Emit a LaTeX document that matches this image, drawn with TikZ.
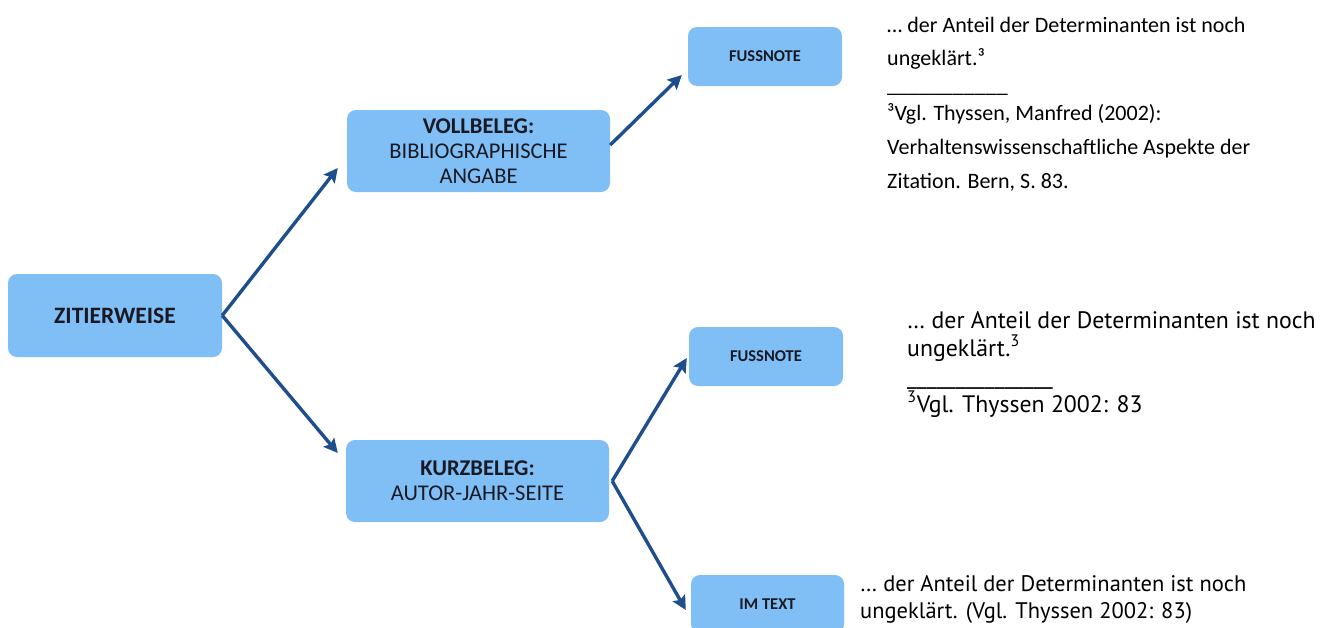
\documentclass[tikz,border=0pt]{standalone}
\usepackage{fontspec}
\setmainfont{Carlito}
\newfontfamily\myriad{PT Sans}
\usetikzlibrary{arrows.meta}
\definecolor{boxblue}{RGB}{128,190,246}
\definecolor{arrowblue}{RGB}{31,78,140}
\definecolor{boxtext}{RGB}{25,25,35}
\begin{document}
\begin{tikzpicture}[x=1pt,y=-1pt,
  box/.style={rectangle, rounded corners=9pt, fill=boxblue, inner sep=0pt, align=center, text=boxtext},
  bigbox/.style={box, minimum width=263pt, minimum height=82pt, font=\fontsize{22.5}{25}\selectfont},
  smallbox/.style={box, minimum width=154pt, minimum height=59pt, font=\bfseries\fontsize{16.5}{19}\selectfont},
  conn/.style={draw=arrowblue, line width=3.4pt, -{Stealth[length=14pt,width=14pt,inset=2.5pt]}},
  calibri/.style={anchor=base west, inner sep=0pt, font=\fontsize{22}{26}\selectfont, text=black},
  myr/.style={anchor=base west, inner sep=0pt, font=\myriad\fontsize{23.8}{28}\selectfont, text=black},
  myrb/.style={anchor=base west, inner sep=0pt, font=\myriad\fontsize{22.5}{27}\selectfont, text=black}
]
\useasboundingbox (0,0) rectangle (1330,627);
\begin{scope}
\clip (0,0) rectangle (1330,627);
\node[box, minimum width=214pt, minimum height=83pt, font=\bfseries\fontsize{23.5}{27}\selectfont] (zit) at (115,315.5) {ZITIERWEISE};
\node[bigbox] (voll) at (478.5,151) {\textbf{VOLLBELEG:}\\BIBLIOGRAPHISCHE\\ANGABE};
\node[bigbox] (kurz) at (477.5,481) {\textbf{KURZBELEG:}\\AUTOR-JAHR-SEITE};
\node[smallbox] (f1) at (765,56.5) {FUSSNOTE};
\node[smallbox] (f2) at (766,356.5) {FUSSNOTE};
\node[smallbox, minimum width=153pt, minimum height=58pt] (im) at (767.5,604) {IM TEXT};
\end{scope}

\draw[conn] (zit.east) -- ([xshift=-9pt,yshift=-17pt]voll.west);
\draw[conn] (zit.east) -- ([xshift=-8pt,yshift=28pt]kurz.west);
\draw[conn] ([yshift=6pt]voll.east) -- ([xshift=-6pt,yshift=-18.5pt]f1.west);
\draw[conn] ([xshift=3pt]kurz.east) -- ([xshift=-2pt,yshift=-1.5pt]f2.west);
\draw[conn] ([xshift=3pt]kurz.east) -- ([xshift=-5pt,yshift=-6pt]im.west);

% top text block
\node[calibri] (t1) at (887,32) {… der Anteil der Determinanten ist noch};
\node[calibri] (t2) at (887,65) {ungeklärt.³};
\node[calibri] (t3) at (887,92) {\_\_\_\_\_\_\_\_\_\_\_};
\node[calibri] (t4) at (887,120) {³Vgl. Thyssen, Manfred (2002):};
\node[calibri] (t5) at (887,154) {Verhaltenswissenschaftliche Aspekte der};
\node[calibri] (t6) at (887,188) {Zitation. Bern, S. 83.};

% middle text block
\node[myr] (m1) at (907,328) {… der Anteil der Determinanten ist noch};
\node[myr] (m2) at (907,356) {ungeklärt.\textsuperscript{3}};
\node[myr] (m3) at (907,384) {\_\_\_\_\_\_\_\_\_\_\_\_\_\_\_};
\node[myr] (m4) at (907,412) {\textsuperscript{3}Vgl. Thyssen 2002: 83};

% bottom text block
\node[myrb] (b1) at (860,591) {… der Anteil der Determinanten ist noch};
\node[myrb] (b2) at (860,618) {ungeklärt. (Vgl. Thyssen 2002: 83)};
\end{tikzpicture}
\end{document}
